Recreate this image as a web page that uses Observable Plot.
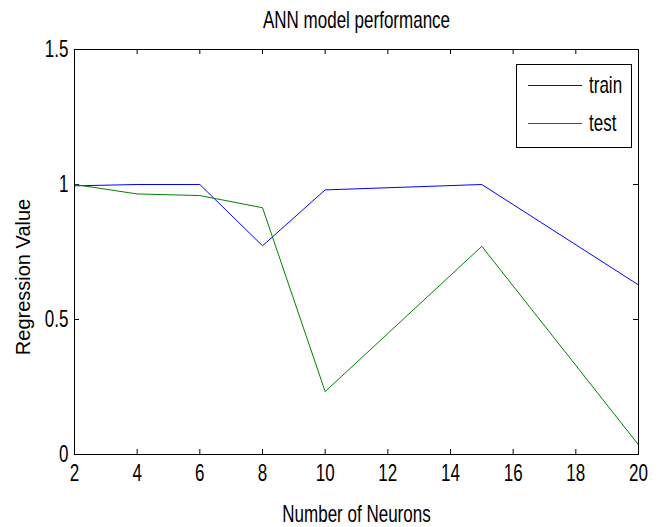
<!DOCTYPE html>
<html><head><meta charset="utf-8">
<script src="https://cdn.jsdelivr.net/npm/d3@7"></script>
<script src="https://cdn.jsdelivr.net/npm/@observablehq/plot@0.6"></script>
<style>body{margin:0;background:#fff} #chart{position:relative;width:663px;height:527px}</style>
</head><body><div id="chart"></div>
<script>
const neurons = [2, 4, 6, 8, 10, 15, 20];
const train = [0.995, 1.0, 1.0, 0.773, 0.98, 1.0, 0.628];
const test = [1.0, 0.965, 0.959, 0.914, 0.233, 0.771, 0.036];
const seriesNames = ["train", "test"];
const seriesColors = ["#0000ff", "#008000"];
const xTicks = [2, 4, 6, 8, 10, 12, 14, 16, 18, 20];
const yTicks = [0, 0.5, 1, 1.5];
const yTickLabels = ["0", "0.5", "1", "1.5"];
const title = "ANN model performance";
const xLabel = "Number of Neurons";
const yLabel = "Regression Value";

const rows = [];
neurons.forEach((n, i) => {
  rows.push({n, v: train[i], s: seriesNames[0]});
  rows.push({n, v: test[i], s: seriesNames[1]});
});

const W = 663, H = 527, mt = 49, mb = 73, ml = 74, mr = 25;
const fh = H - mt - mb, fw = W - ml - mr;
const font = "'Liberation Sans',Arial,sans-serif";
const SQUEEZE = 0.74;
const FS = 23;

const plot = Plot.plot({
  width: W, height: H,
  marginTop: mt, marginBottom: mb, marginLeft: ml, marginRight: mr,
  style: {fontFamily: font, fontSize: FS + "px", background: "white", color: "black"},
  x: {domain: [2, 20]},
  y: {domain: [0, 1.5]},
  color: {domain: seriesNames, range: seriesColors},
  marks: [
    Plot.axisX(xTicks, {tickSize: 0, tickPadding: 10, label: null, fontSize: FS}),
    Plot.axisY(yTicks, {tickSize: 0, tickPadding: 6, label: null, fontSize: FS,
      tickFormat: d => yTickLabels[yTicks.indexOf(d)]}),
    Plot.ruleX(xTicks, {x: d => d, insetTop: fh - 5, stroke: "black"}),
    Plot.ruleX(xTicks, {x: d => d, insetBottom: fh - 5, stroke: "black"}),
    Plot.ruleY(yTicks, {y: d => d, insetRight: fw - 5, stroke: "black"}),
    Plot.ruleY(yTicks, {y: d => d, insetLeft: fw - 5, stroke: "black"}),
    Plot.line(rows, {x: "n", y: "v", z: "s", stroke: "s", strokeWidth: 1}),
    Plot.frame({stroke: "black", strokeWidth: 1}),
    Plot.text([title], {frameAnchor: "top", dy: -38, text: d => d, fontSize: FS}),
    Plot.text([xLabel], {frameAnchor: "bottom", dy: 67, text: d => d, fontSize: FS}),
    Plot.text([yLabel], {frameAnchor: "left", textAnchor: "middle", dx: -51, dy: 25, rotate: -90,
      text: d => d, fontSize: 20})
  ]
});
document.getElementById("chart").appendChild(plot);

// condense the narrow-font texts (all but the y label)
d3.select(plot).selectAll("text").each(function () {
  if (this.textContent === yLabel) return;
  const t = this.getAttribute("transform") || "";
  this.setAttribute("transform", t + ` scale(${SQUEEZE},1)`);
});

// legend (layout only)
const svg = d3.select(plot);
const lg = svg.append("g");
lg.append("rect").attr("x", 516.5).attr("y", 64.5).attr("width", 115).attr("height", 83)
  .style("fill", "white").style("stroke", "black");
seriesNames.forEach((name, i) => {
  const y = 85 + i * 38;
  lg.append("path").attr("d", `M528,${y + 0.5}H582`)
    .style("stroke", seriesColors[i]).style("stroke-width", 1.2).style("fill", "none");
  lg.append("text").attr("transform", `translate(589,${y}) scale(${SQUEEZE},1)`)
    .attr("dy", "0.35em").attr("text-anchor", "start")
    .attr("font-family", font).attr("font-size", FS).style("fill", "black").text(name);
});
</script>
</body></html>
